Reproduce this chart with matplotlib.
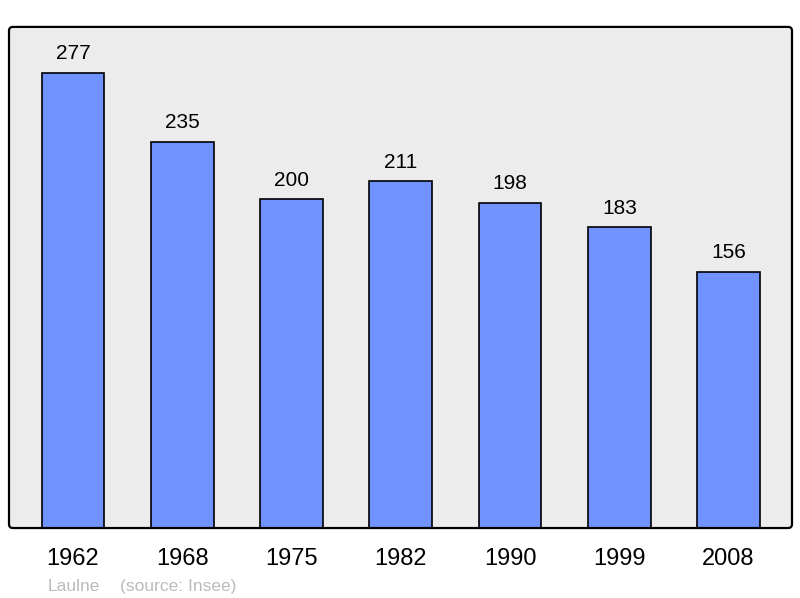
import matplotlib
matplotlib.use("Agg")
from matplotlib import pyplot as plt
from matplotlib.patches import FancyBboxPatch

years = ["1962", "1968", "1975", "1982", "1990", "1999", "2008"]
population = [277, 235, 200, 211, 198, 183, 156]

plt.rcParams['font.family'] = ['Liberation Sans', 'DejaVu Sans']

fig = plt.figure(figsize=(8, 5.98), dpi=100)
ax = fig.add_axes([0.01125, 0.117, 0.97875, 0.838])
ax.patch.set_visible(False)
for s in ax.spines.values():
    s.set_visible(False)

# rounded frame (background behind bars, outline on top)
aspect = 783 / 501
bg = FancyBboxPatch((0, 0), 1, 1, boxstyle="round,pad=0,rounding_size=0.005",
                    mutation_aspect=aspect, transform=ax.transAxes,
                    facecolor='#ececec', edgecolor='none', zorder=0, clip_on=False)
frame = FancyBboxPatch((0, 0), 1, 1, boxstyle="round,pad=0,rounding_size=0.005",
                       mutation_aspect=aspect, transform=ax.transAxes,
                       facecolor='none', edgecolor='black', linewidth=1.6,
                       zorder=5, clip_on=False)
ax.add_patch(bg)
ax.add_patch(frame)

x = range(len(years))
ax.bar(x, population, width=0.575, color='#7093ff', edgecolor='black',
       linewidth=1.2, zorder=2)

for xi, val in zip(x, population):
    ax.annotate(str(val), xy=(xi, val), xytext=(0, 7), textcoords='offset points',
                ha='center', va='bottom', fontsize=15)

ax.set_xlim(-0.585, 6.58)
ax.set_ylim(0, 305)
ax.set_xticks(list(x))
ax.set_xticklabels(years, fontsize=17)
ax.tick_params(axis='x', length=0, pad=14.5)
ax.set_yticks([])

fig.text(0.06, 0.011, "Laulne", color='#bbbbbb', fontsize=12.5)
fig.text(0.15, 0.011, "(source: Insee)", color='#bbbbbb', fontsize=12.5)

plt.savefig('out.png', dpi=100)
